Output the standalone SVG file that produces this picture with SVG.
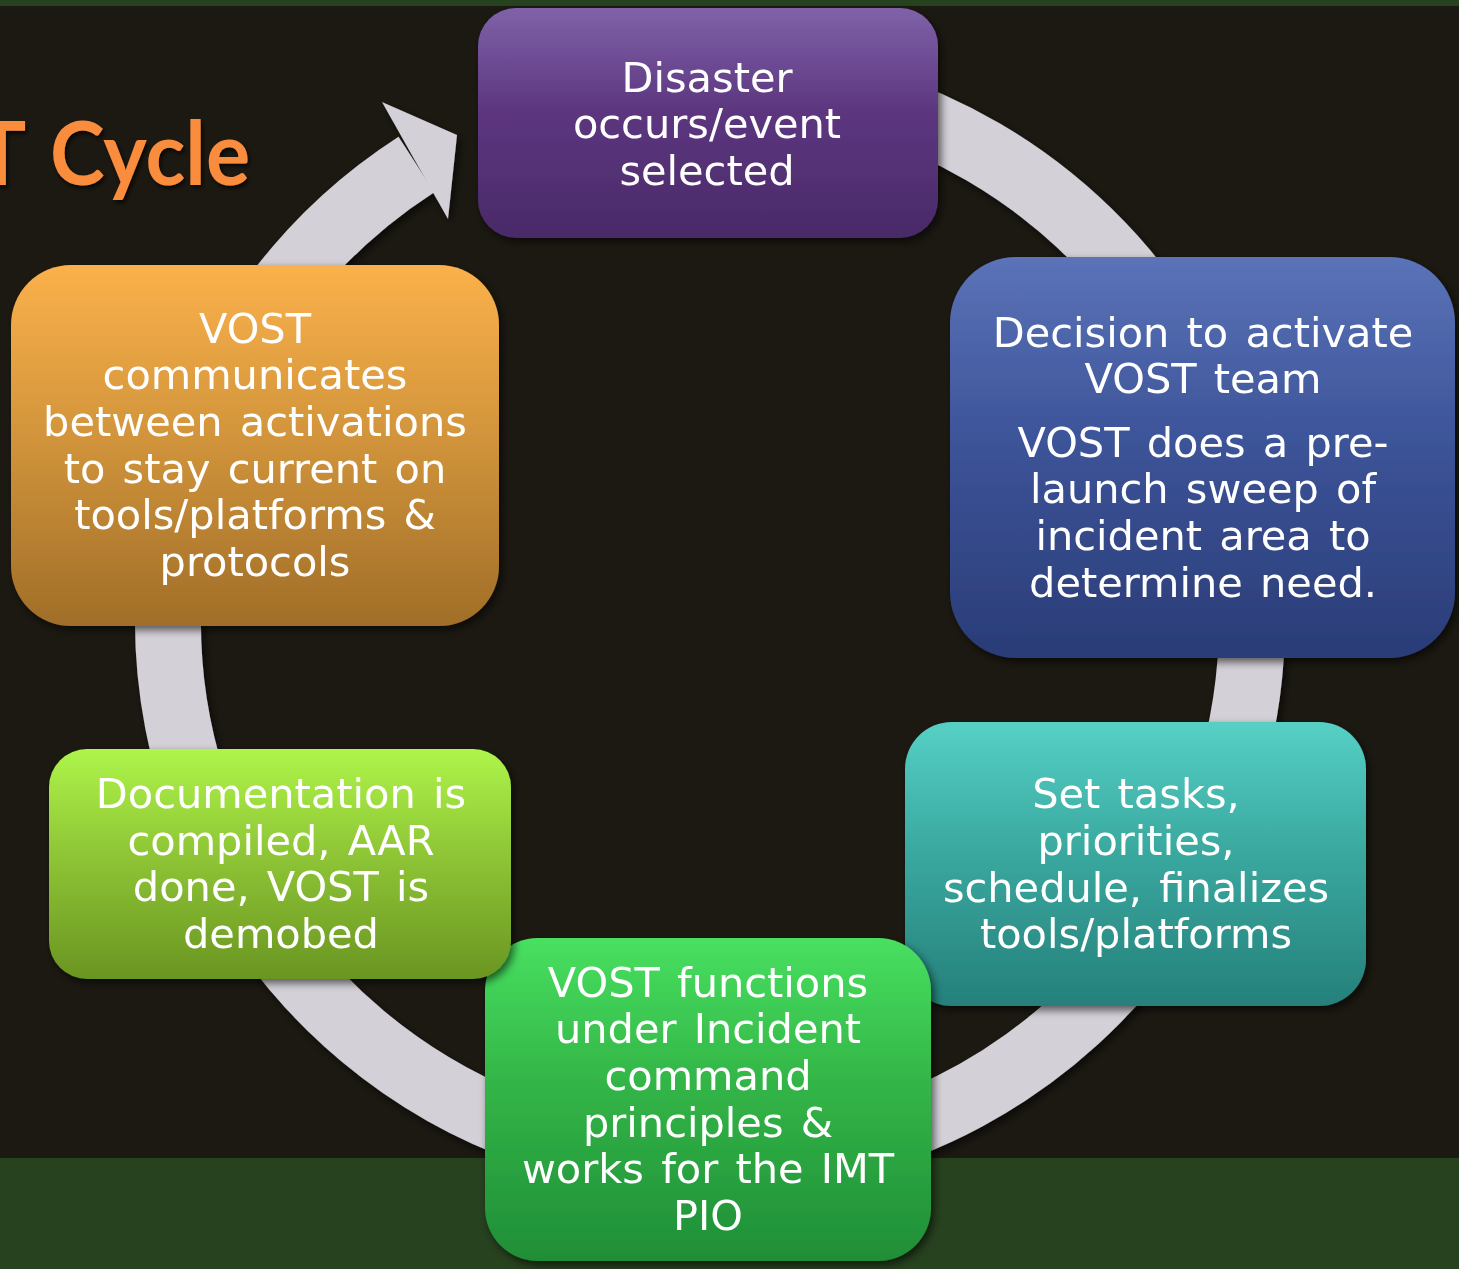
<svg xmlns="http://www.w3.org/2000/svg" width="1459" height="1269" viewBox="0 0 1459 1269">
<style>
.lbl{font-family:"DejaVu Sans","Liberation Sans",sans-serif;font-size:41.5px;fill:#ffffff;text-anchor:middle;word-spacing:4px}
.title{font-family:Lato,"Liberation Sans",sans-serif;font-weight:bold;font-size:88px;fill:#f98d3e}
</style>
<defs>
<filter id="sh" x="-10%" y="-10%" width="125%" height="130%">
<feDropShadow dx="3" dy="4" stdDeviation="4" flood-color="#000" flood-opacity="0.6"/>
</filter>
<filter id="tsh" x="-10%" y="-10%" width="125%" height="130%">
<feDropShadow dx="2" dy="3" stdDeviation="2" flood-color="#000" flood-opacity="0.7"/>
</filter>
<linearGradient id="gPurple" x1="0" y1="0" x2="0" y2="1"><stop offset="0" stop-color="#7f62a9"/><stop offset="0.45" stop-color="#5c367f"/><stop offset="1" stop-color="#4a2a68"/></linearGradient>
<linearGradient id="gBlue" x1="0" y1="0" x2="0" y2="1"><stop offset="0" stop-color="#5b73b8"/><stop offset="0.45" stop-color="#3d5499"/><stop offset="1" stop-color="#2a3c77"/></linearGradient>
<linearGradient id="gTeal" x1="0" y1="0" x2="0" y2="1"><stop offset="0" stop-color="#56d0c5"/><stop offset="0.45" stop-color="#3aa9a0"/><stop offset="1" stop-color="#25807a"/></linearGradient>
<linearGradient id="gGreen" x1="0" y1="0" x2="0" y2="1"><stop offset="0" stop-color="#48e060"/><stop offset="0.45" stop-color="#33b547"/><stop offset="1" stop-color="#1f8e37"/></linearGradient>
<linearGradient id="gLime" x1="0" y1="0" x2="0" y2="1"><stop offset="0" stop-color="#aef54a"/><stop offset="0.45" stop-color="#8fc636"/><stop offset="1" stop-color="#6a9522"/></linearGradient>
<linearGradient id="gOrange" x1="0" y1="0" x2="0" y2="1"><stop offset="0" stop-color="#fbb14b"/><stop offset="0.45" stop-color="#d4963c"/><stop offset="1" stop-color="#a06e28"/></linearGradient>
</defs>
<rect x="0" y="0" width="1459" height="1269" fill="#1c1912"/>
<rect x="0" y="0" width="1459" height="6" fill="#27421f"/>
<rect x="0" y="1158" width="1459" height="111" fill="#27421f"/>
<text class="title" filter="url(#tsh)"><tspan x="0" y="185" text-anchor="middle">T</tspan><tspan x="50" y="185" textLength="200" lengthAdjust="spacingAndGlyphs">Cycle</tspan></text>
<g id="connectors" filter="url(#sh)">
<path d="M757.2 80.1 A542 542 0 1 1 416.4 164.4" fill="none" stroke="#d3d0d7" stroke-width="66"/>
<polygon points="382,102 457,135 448,219" fill="#d3d0d7"/>
</g>
<g id="node1" filter="url(#sh)">
<rect x="478" y="8" width="460" height="230" rx="38" fill="url(#gPurple)"/>
<text class="lbl"><tspan x="707" y="92">Disaster</tspan><tspan x="707" y="138">occurs/event</tspan><tspan x="707" y="185">selected</tspan></text>
</g>
<g id="node2" filter="url(#sh)">
<rect x="950" y="257" width="505" height="401" rx="66" fill="url(#gBlue)"/>
<text class="lbl"><tspan x="1203" y="347">Decision to activate</tspan><tspan x="1203" y="393">VOST team</tspan><tspan x="1203" y="457">VOST does a pre-</tspan><tspan x="1203" y="503">launch sweep of</tspan><tspan x="1203" y="550">incident area to</tspan><tspan x="1203" y="597">determine need.</tspan></text>
</g>
<g id="node3" filter="url(#sh)">
<rect x="905" y="722" width="461" height="284" rx="47" fill="url(#gTeal)"/>
<text class="lbl"><tspan x="1136" y="808">Set tasks,</tspan><tspan x="1136" y="855">priorities,</tspan><tspan x="1136" y="902">schedule, finalizes</tspan><tspan x="1136" y="948">tools/platforms</tspan></text>
</g>
<g id="node4" filter="url(#sh)">
<rect x="485" y="938" width="446" height="323" rx="53" fill="url(#gGreen)"/>
<text class="lbl"><tspan x="708" y="997">VOST functions</tspan><tspan x="708" y="1043">under Incident</tspan><tspan x="708" y="1090">command</tspan><tspan x="708" y="1137">principles &amp;</tspan><tspan x="708" y="1183">works for the IMT</tspan><tspan x="708" y="1230">PIO</tspan></text>
</g>
<g id="node5" filter="url(#sh)">
<rect x="49" y="749" width="462" height="230" rx="38" fill="url(#gLime)"/>
<text class="lbl"><tspan x="281" y="808">Documentation is</tspan><tspan x="281" y="855">compiled, AAR</tspan><tspan x="281" y="901">done, VOST is</tspan><tspan x="281" y="948">demobed</tspan></text>
</g>
<g id="node6" filter="url(#sh)">
<rect x="11" y="265" width="488" height="361" rx="60" fill="url(#gOrange)"/>
<text class="lbl"><tspan x="255" y="343">VOST</tspan><tspan x="255" y="389">communicates</tspan><tspan x="255" y="436">between activations</tspan><tspan x="255" y="483">to stay current on</tspan><tspan x="255" y="529">tools/platforms &amp;</tspan><tspan x="255" y="576">protocols</tspan></text>
</g>
</svg>
